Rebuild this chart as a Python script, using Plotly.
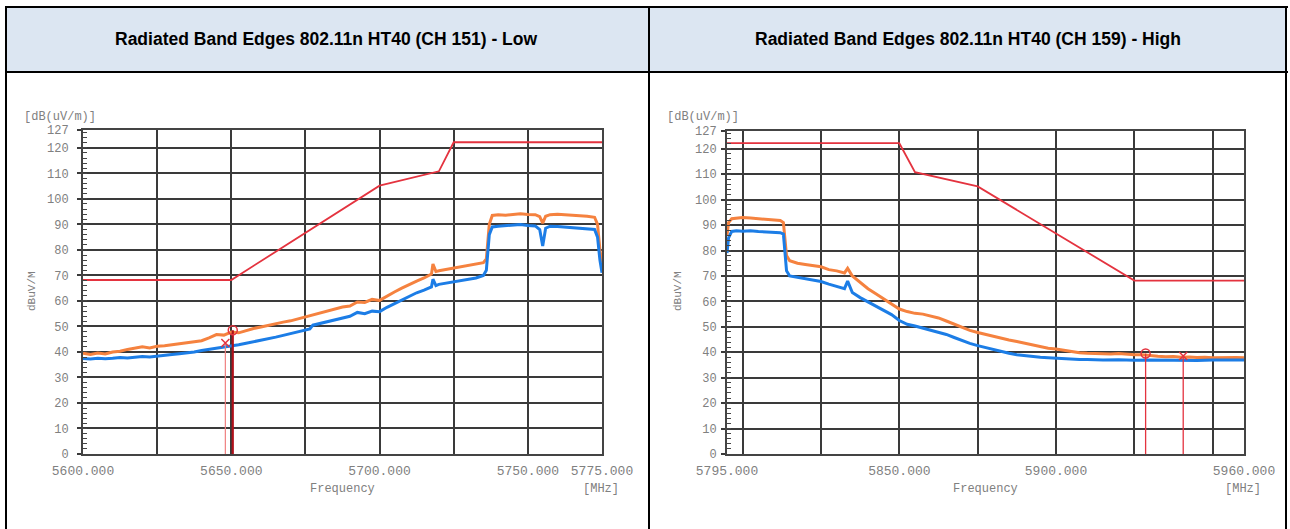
import plotly.graph_objects as go

W, H = 1290, 529

# ---------------- data ----------------
titles = ["Radiated Band Edges 802.11n HT40 (CH 151) - Low",
          "Radiated Band Edges 802.11n HT40 (CH 159) - High"]

# Left chart (CH 151)
low_freq_pk = [5600, 5602.5, 5605, 5607.5, 5610, 5612.5, 5615, 5617.5, 5620, 5622.5, 5625, 5627.5,
               5630, 5632.5, 5635, 5637.5, 5640, 5642.5, 5645, 5647.5, 5650, 5652.5, 5655, 5657.5,
               5660, 5662.5, 5665, 5667.5, 5670, 5672.5, 5675, 5677.5, 5680, 5682.5, 5685, 5687.5,
               5690, 5692.5, 5695, 5697.5, 5700, 5702.5, 5705, 5707.5, 5710, 5712.5, 5715, 5717.5,
               5718, 5719, 5720, 5722.5, 5725, 5727.5, 5730, 5732.5, 5735, 5736, 5737, 5738, 5740,
               5742.5, 5745, 5747.5, 5750, 5752.5, 5754, 5755, 5756, 5757.5, 5760, 5762.5, 5765,
               5767.5, 5770, 5772.5, 5773.5, 5774.3, 5775]
low_peak = [39.5, 39.0, 39.6, 39.2, 40.0, 40.3, 41.0, 41.6, 42.0, 41.6, 42.2, 42.4,
            42.8, 43.1, 43.4, 43.9, 44.4, 45.5, 46.8, 46.6, 47.8, 47.5, 48.5, 49.2,
            49.8, 50.5, 51.0, 51.7, 52.2, 53.0, 53.8, 54.6, 55.2, 56.1, 56.8, 57.6,
            58.0, 59.6, 59.4, 60.6, 60.2, 62.0, 63.5, 65.0, 66.5, 67.8, 69.0, 70.5,
            74.5, 71.5, 71.8, 72.3, 72.8, 73.4, 73.8, 74.4, 75.0, 76.5, 90.0, 93.5, 93.8,
            93.6, 94.0, 94.2, 93.9, 93.8, 93.0, 90.5, 93.2, 93.8, 94.0, 93.8, 93.7,
            93.5, 93.2, 92.8, 90.0, 80.0, 75.0]

low_freq_av = [5600, 5602.5, 5605, 5607.5, 5610, 5612.5, 5615, 5617.5, 5620, 5622.5, 5625, 5627.5,
               5630, 5632.5, 5635, 5637.5, 5640, 5642.5, 5645, 5647.5, 5650, 5652.5, 5655, 5657.5,
               5660, 5662.5, 5665, 5667.5, 5670, 5672.5, 5675, 5676.5, 5677.5, 5680, 5682.5, 5685,
               5687.5, 5690, 5692.5, 5695, 5697.5, 5700, 5702.5, 5705, 5707.5, 5710, 5712.5, 5715,
               5717.5, 5718, 5719, 5720, 5722.5, 5725, 5727.5, 5730, 5732.5, 5735, 5736, 5737, 5738,
               5740, 5742.5, 5745, 5747.5, 5750, 5752.5, 5754, 5755, 5756, 5757.5, 5760, 5762.5,
               5765, 5767.5, 5770, 5772.5, 5773.5, 5774.3, 5775]
low_avg = [37.4, 37.2, 37.5, 37.3, 37.5, 37.8, 37.6, 38.0, 38.2, 38.0, 38.4, 38.6,
           39.0, 39.3, 39.6, 40.0, 40.6, 41.0, 41.5, 42.0, 42.3, 42.8, 43.4, 44.0,
           44.6, 45.0, 45.8, 46.5, 47.2, 47.8, 48.4, 49.0, 50.5, 51.2, 52.0, 52.6,
           53.2, 54.0, 55.5, 55.0, 56.0, 55.8, 57.5, 59.0, 60.5, 62.0, 63.2, 64.2,
           65.5, 68.5, 66.0, 66.5, 67.0, 67.5, 68.0, 68.5, 69.0, 70.0, 72.0, 86.0, 89.0,
           89.3, 89.5, 89.8, 90.0, 89.6, 89.4, 88.0, 81.5, 88.5, 89.3, 89.2, 89.0,
           88.8, 88.6, 88.3, 88.0, 85.0, 76.0, 71.0]

low_limit_freq = [5600, 5650, 5700, 5720, 5725, 5775]
low_limit = [68.2, 68.2, 105.2, 110.8, 122.2, 122.2]

low_mk_peak = (5650.5, 48.5)
low_mk_avg = (5648.0, 43.5)

# Right chart (CH 159)
high_freq_pk = [5795, 5795.5, 5796.5, 5798, 5800, 5802.5, 5805, 5807.5, 5810, 5812, 5813, 5814,
                5815, 5817.5, 5820, 5822.5, 5825, 5827.5, 5830, 5832.5, 5833.5, 5835, 5837.5,
                5840, 5842.5, 5845, 5847.5, 5850, 5852.5, 5855, 5857.5, 5860, 5862.5, 5865,
                5867.5, 5870, 5872.5, 5875, 5877.5, 5880, 5882.5, 5885, 5887.5, 5890, 5892.5,
                5895, 5897.5, 5900, 5902.5, 5905, 5907.5, 5910, 5912.5, 5915, 5917.5, 5920,
                5922.5, 5925, 5927.5, 5930, 5932.5, 5935, 5937.5, 5940, 5942.5, 5945, 5947.5,
                5950, 5952.5, 5955, 5957.5, 5960]
high_peak = [86.0, 91.0, 92.5, 92.8, 93.0, 92.8, 92.5, 92.4, 92.0, 91.8, 91.0, 78.0,
             76.0, 75.0, 74.5, 74.0, 73.6, 72.5, 72.0, 71.2, 73.0, 70.0, 67.5,
             65.0, 63.0, 61.0, 59.0, 57.0, 56.0, 55.3, 55.0, 54.3, 53.5, 52.3,
             51.0, 49.8, 48.6, 47.8, 47.0, 46.2, 45.5, 44.8, 44.2, 43.5, 42.8,
             42.2, 41.6, 41.3, 40.8, 40.2, 39.8, 39.6, 39.4, 39.5, 39.3, 39.5,
             39.2, 39.0, 39.0, 38.6, 38.4, 38.2, 38.3, 38.0, 38.1, 37.9, 38.0,
             37.8, 37.9, 37.8, 37.9, 37.8]

high_freq_av = [5795, 5795.5, 5796.5, 5798, 5800, 5802.5, 5805, 5807.5, 5810, 5812, 5813, 5814,
                5815, 5817.5, 5820, 5822.5, 5825, 5827.5, 5830, 5832.5, 5833.5, 5835, 5837.5,
                5840, 5842.5, 5845, 5847.5, 5850, 5852.5, 5855, 5857.5, 5860, 5862.5, 5865,
                5867.5, 5870, 5872.5, 5875, 5877.5, 5880, 5882.5, 5885, 5887.5, 5890, 5892.5,
                5895, 5897.5, 5900, 5902.5, 5905, 5907.5, 5910, 5915, 5920, 5925, 5930, 5935,
                5940, 5945, 5950, 5955, 5960]
high_avg = [79.0, 85.0, 87.5, 87.8, 87.6, 87.8, 87.5, 87.4, 87.2, 87.0, 86.5, 72.0,
            70.0, 69.5, 69.0, 68.3, 67.8, 66.8, 66.0, 65.0, 68.0, 63.5, 61.5,
            59.8, 58.2, 56.5, 54.8, 52.5, 51.0, 50.3, 49.5, 48.8, 48.0, 47.0,
            45.8, 44.5, 43.5, 42.6, 41.8, 41.0, 40.3, 39.6, 39.0, 38.6, 38.3,
            38.0, 37.8, 37.6, 37.5, 37.3, 37.2, 37.2, 37.0, 37.1, 36.9, 37.0, 36.9,
            37.0, 36.8, 37.0, 36.9, 37.0]

high_limit_freq = [5795, 5850, 5855, 5875, 5925, 5960]
high_limit = [122.2, 122.2, 110.8, 105.2, 68.2, 68.2]

high_mk_peak = (5928.6, 39.5)
high_mk_avg = (5940.6, 38.5)

y_ticks = [0, 10, 20, 30, 40, 50, 60, 70, 80, 90, 100, 110, 120, 127]
low_xticks = [5600, 5650, 5700, 5750, 5775]
high_xticks = [5795, 5850, 5900, 5960]

# ---------------- styling ----------------
ORANGE = "#F5823F"
BLUE = "#1C7DE6"
RED = "#E4333F"
GRID = "#3a3a3a"
LBL = "#808080"
MONO = "Liberation Mono, Courier New, monospace"


def px(x):
    return x / W


def py(y):
    return 1 - y / H


fig = go.Figure()

panels = [
    dict(ax="", fpk=low_freq_pk, pk=low_peak, fav=low_freq_av, av=low_avg,
         lf=low_limit_freq, lv=low_limit, mp=low_mk_peak, ma=low_mk_avg,
         xr=[5600, 5775], xt=low_xticks, tick0=5600, dom=(83, 602, 130, 454), standoff=10),
    dict(ax="2", fpk=high_freq_pk, pk=high_peak, fav=high_freq_av, av=high_avg,
         lf=high_limit_freq, lv=high_limit, mp=high_mk_peak, ma=high_mk_avg,
         xr=[5795, 5960], xt=high_xticks, tick0=5800, dom=(727, 1244, 131, 454), standoff=6),
]

for i, p in enumerate(panels):
    xa = "x" + p["ax"]
    ya = "y" + p["ax"]
    # limit line
    fig.add_trace(go.Scatter(x=p["lf"], y=p["lv"], mode="lines", xaxis=xa, yaxis=ya,
                             line=dict(color=RED, width=1.8), hoverinfo="skip"))
    # peak trace
    fig.add_trace(go.Scatter(x=p["fpk"], y=p["pk"], mode="lines", xaxis=xa, yaxis=ya,
                             line=dict(color=ORANGE, width=3)))
    # average trace
    fig.add_trace(go.Scatter(x=p["fav"], y=p["av"], mode="lines", xaxis=xa, yaxis=ya,
                             line=dict(color=BLUE, width=3)))
    # marker lines
    mp, ma = p["mp"], p["ma"]
    if i == 0:
        fig.add_trace(go.Scatter(x=[ma[0], ma[0]], y=[0, ma[1]], mode="lines", xaxis=xa, yaxis=ya,
                                 line=dict(color="#F08080", width=1.2)))
        fig.add_trace(go.Scatter(x=[mp[0], mp[0]], y=[0, mp[1]], mode="lines", xaxis=xa, yaxis=ya,
                                 line=dict(color="#B0101A", width=2.2)))
    else:
        fig.add_trace(go.Scatter(x=[mp[0], mp[0]], y=[0, mp[1]], mode="lines", xaxis=xa, yaxis=ya,
                                 line=dict(color=RED, width=1.3)))
        fig.add_trace(go.Scatter(x=[ma[0], ma[0]], y=[0, ma[1]], mode="lines", xaxis=xa, yaxis=ya,
                                 line=dict(color=RED, width=1.3)))
    fig.add_trace(go.Scatter(x=[mp[0]], y=[mp[1]], mode="markers", xaxis=xa, yaxis=ya,
                             marker=dict(symbol="circle-open", size=9, color=RED, line=dict(width=1.5))))
    fig.add_trace(go.Scatter(x=[ma[0]], y=[ma[1]], mode="markers", xaxis=xa, yaxis=ya,
                             marker=dict(symbol="x-thin-open", size=8, color=RED, line=dict(width=1.5, color=RED))))

    x0, x1, y0, y1 = p["dom"]
    xaxis = dict(domain=[px(x0), px(x1)], anchor=ya, range=p["xr"], automargin=False,
                 tickmode="array", tickvals=p["xt"], ticktext=["%.3f" % v for v in p["xt"]],
                 ticks="", showgrid=True, gridcolor=GRID, gridwidth=1.5,
                 showline=True, linecolor="#444", linewidth=2, mirror=True, zeroline=False,
                 tickfont=dict(family=MONO, size=13, color=LBL), ticklabelstandoff=3,
                 minor=dict(tickmode="linear", tick0=p["tick0"], dtick=25, showgrid=True,
                            gridcolor=GRID, gridwidth=1.5, ticks=""))
    yaxis = dict(domain=[py(y1), py(y0)], anchor=xa, range=[0, 127], automargin=False,
                 tickmode="array", tickvals=y_ticks, ticks="outside", ticklen=4,
                 tickcolor=GRID, tickwidth=1.5,
                 showgrid=True, gridcolor=GRID, gridwidth=1.5,
                 showline=True, linecolor="#444", linewidth=2, mirror=True, zeroline=False,
                 tickfont=dict(family=MONO, size=12, color=LBL), ticklabelstandoff=p["standoff"] - 4,
                 minor=dict(tickmode="linear", tick0=0, dtick=2, ticks="inside", ticklen=4,
                            tickcolor="#444", tickwidth=1, showgrid=False))
    fig.layout["xaxis" + p["ax"]] = xaxis
    fig.layout["yaxis" + p["ax"]] = yaxis

# ---------------- table frame ----------------
shapes = [
    dict(type="rect", xref="paper", yref="paper", x0=px(6), x1=px(1287), y0=py(72), y1=py(7),
         fillcolor="#DCE6F2", line=dict(width=0), layer="below"),
    dict(type="line", xref="paper", yref="paper", x0=px(5), x1=px(1288), y0=py(7), y1=py(7),
         line=dict(color="black", width=2)),
    dict(type="line", xref="paper", yref="paper", x0=px(5), x1=px(1288), y0=py(72), y1=py(72),
         line=dict(color="black", width=2)),
    dict(type="line", xref="paper", yref="paper", x0=px(6), x1=px(6), y0=py(6), y1=py(529),
         line=dict(color="black", width=2)),
    dict(type="line", xref="paper", yref="paper", x0=px(649), x1=px(649), y0=py(6), y1=py(529),
         line=dict(color="black", width=2)),
    dict(type="line", xref="paper", yref="paper", x0=px(1286), x1=px(1286), y0=py(6), y1=py(529),
         line=dict(color="black", width=2)),
]

annotations = []
for cx, t in zip([326, 968], titles):
    annotations.append(dict(x=px(cx), y=py(39), xref="paper", yref="paper", text="<b>%s</b>" % t,
                            showarrow=False, xanchor="center", yanchor="middle",
                            font=dict(family="Liberation Sans, Arial", size=17.5, color="black")))

for p, unit_x, ylab_x, freq_x, mhz_x in [(panels[0], 60, 32, 342, 601), (panels[1], 703, 678, 985, 1243)]:
    annotations.append(dict(x=px(unit_x), y=py(117), xref="paper", yref="paper", text="[dB(uV/m)]",
                            showarrow=False, xanchor="center", yanchor="middle",
                            font=dict(family=MONO, size=12, color=LBL)))
    annotations.append(dict(x=px(ylab_x), y=py(291), xref="paper", yref="paper", text="dBuV/M",
                            showarrow=False, xanchor="center", yanchor="middle", textangle=-90,
                            font=dict(family=MONO, size=11, color=LBL)))
    annotations.append(dict(x=px(freq_x), y=py(489), xref="paper", yref="paper", text="Frequency",
                            showarrow=False, xanchor="center", yanchor="middle",
                            font=dict(family=MONO, size=12, color=LBL)))
    annotations.append(dict(x=px(mhz_x), y=py(489), xref="paper", yref="paper", text="[MHz]",
                            showarrow=False, xanchor="center", yanchor="middle",
                            font=dict(family=MONO, size=12, color=LBL)))

fig.update_layout(width=W, height=H, margin=dict(l=0, r=0, t=0, b=0, autoexpand=False),
                  paper_bgcolor="white", plot_bgcolor="white", showlegend=False,
                  shapes=shapes, annotations=annotations)

fig.write_html("out.html", config={"displayModeBar": False},
               post_script="document.body.style.margin='0px';document.body.style.overflow='hidden';")
